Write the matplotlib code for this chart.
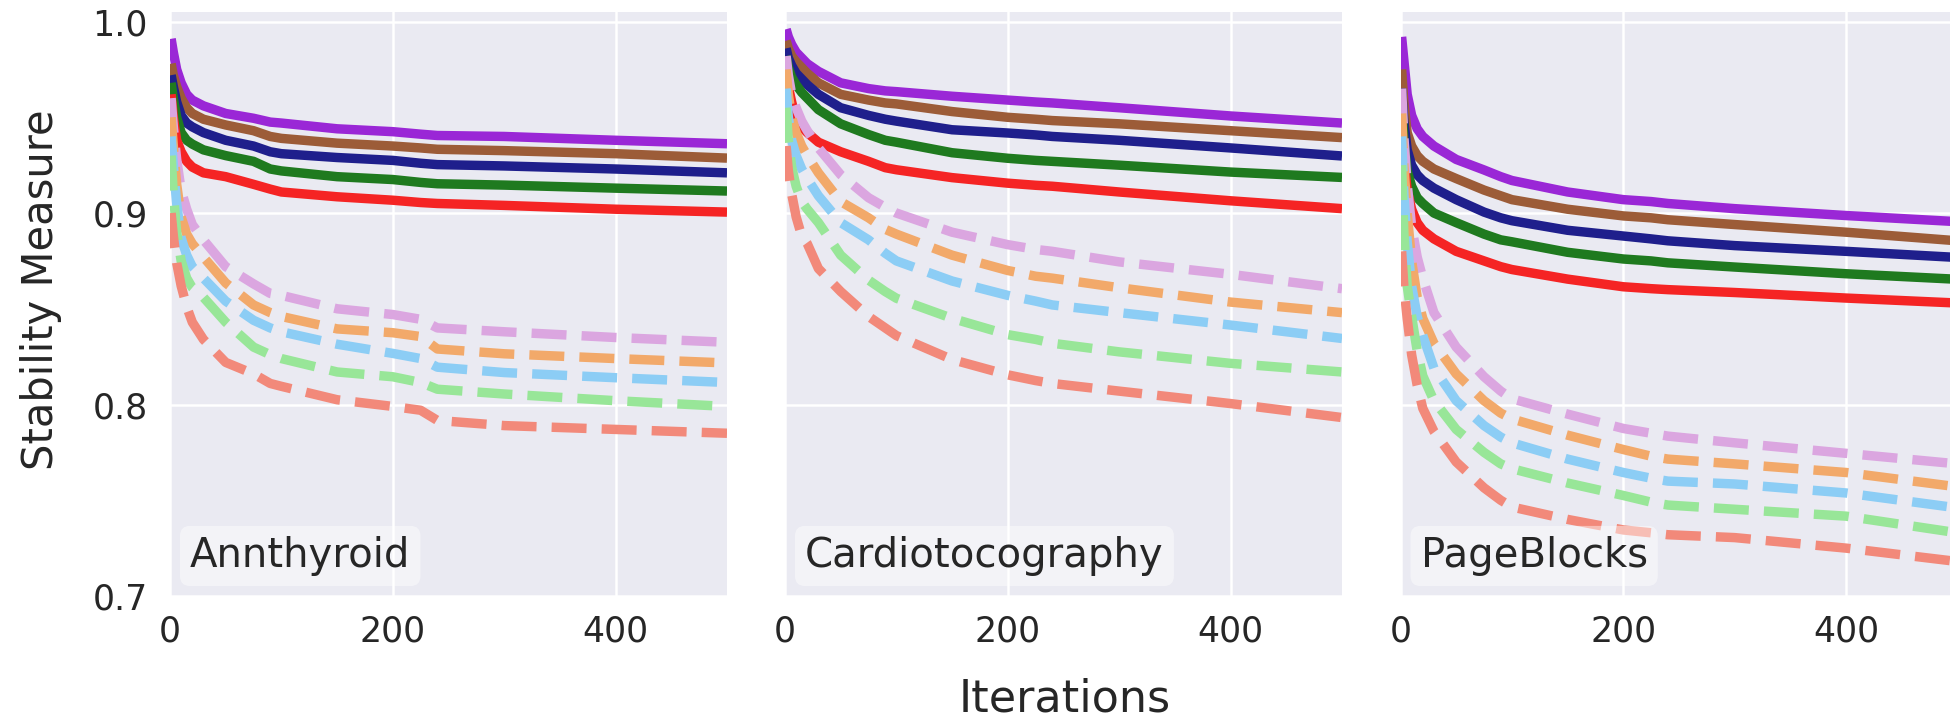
import matplotlib
matplotlib.use("Agg")
import matplotlib.pyplot as plt

# ---------------- data ----------------
iterations = [1, 3, 6, 10, 15, 20, 30, 50, 75, 90, 100, 150, 200, 225, 240, 300, 400, 500]
datasets = ["Annthyroid", "Cardiotocography", "PageBlocks"]

# Annthyroid
ann_purple = [.991, .984, .975, .968, .962, .959, .956, .952, .9495, .9475, .947, .944, .9425, .9412, .9405, .9400, .9380, .9362]
ann_brown  = [.978, .972, .966, .960, .955, .952, .949, .946, .943, .940, .939, .9365, .9350, .9340, .9333, .9326, .9310, .9287]
ann_blue   = [.972, .966, .958, .951, .947, .945, .942, .938, .935, .932, .931, .9290, .9275, .9260, .9253, .9246, .9230, .9210]
ann_green  = [.968, .960, .950, .942, .938, .936, .933, .930, .927, .923, .922, .9190, .9175, .9160, .9153, .9146, .9130, .9115]
ann_red    = [.962, .950, .938, .932, .927, .924, .921, .919, .915, .9125, .911, .9085, .9067, .9055, .9050, .9040, .9020, .9005]
ann_plum   = [.960, .945, .928, .912, .902, .894, .886, .872, .863, .858, .857, .850, .8470, .8445, .8400, .8380, .8350, .8325]
ann_sandy  = [.950, .935, .915, .898, .889, .884, .877, .8635, .852, .848, .846, .8395, .8375, .8355, .8290, .8265, .8240, .8217]
ann_sky    = [.940, .925, .905, .887, .878, .872, .866, .854, .844, .840, .838, .8315, .8267, .8240, .8195, .8167, .8140, .8115]
ann_lgreen = [.930, .910, .890, .875, .866, .861, .856, .843, .830, .826, .824, .8170, .8145, .8115, .8080, .8055, .8020, .7990]
ann_salmon = [.900, .888, .874, .862, .851, .843, .834, .822, .816, .811, .8095, .8025, .7990, .7970, .7917, .7890, .7870, .7850]

# Cardiotocography
car_purple = [.996, .992, .988, .984, .981, .978, .974, .968, .965, .9638, .9634, .961, .959, .958, .9575, .955, .9507, .947]
car_brown  = [.990, .986, .982, .979, .976, .973, .968, .962, .959, .9575, .957, .953, .950, .949, .9483, .9466, .943, .9394]
car_blue   = [.986, .981, .977, .973, .970, .967, .962, .955, .951, .949, .948, .9435, .9418, .9408, .940, .938, .934, .9298]
car_green  = [.982, .976, .971, .967, .963, .960, .954, .9466, .941, .938, .937, .9315, .9286, .9275, .927, .925, .9214, .9186]
car_red    = [.975, .966, .958, .949, .945, .942, .937, .932, .927, .9237, .9226, .9185, .9156, .9145, .914, .911, .9064, .9023]
car_plum   = [.982, .972, .962, .955, .948, .943, .934, .920, .908, .903, .900, .890, .8835, .881, .880, .8745, .868, .8605]
car_sandy  = [.975, .962, .950, .942, .935, .930, .921, .906, .8975, .8915, .889, .878, .870, .867, .866, .861, .8535, .848]
car_sky    = [.965, .950, .938, .930, .923, .918, .909, .895, .886, .879, .875, .8645, .857, .854, .852, .848, .8415, .8345]
car_lgreen = [.955, .938, .924, .914, .906, .902, .895, .878, .865, .859, .8555, .845, .8365, .834, .832, .8275, .8215, .817]
car_salmon = [.935, .922, .910, .898, .888, .884, .871, .859, .846, .840, .836, .8235, .8155, .8125, .811, .807, .8005, .7932]

# PageBlocks
pag_purple = [.992, .980, .962, .951, .944, .940, .935, .928, .9225, .919, .917, .911, .907, .906, .905, .9023, .8987, .8955]
pag_brown  = [.975, .958, .942, .935, .930, .927, .923, .918, .912, .909, .907, .902, .8985, .8975, .8965, .894, .890, .8855]
pag_blue   = [.965, .948, .933, .925, .920, .917, .913, .907, .9005, .8975, .896, .891, .888, .8865, .8855, .883, .880, .8768]
pag_green  = [.958, .938, .922, .914, .908, .905, .900, .895, .889, .886, .885, .8795, .876, .875, .874, .8718, .8683, .8654]
pag_red    = [.950, .928, .912, .902, .895, .891, .8865, .880, .875, .872, .8705, .8655, .8615, .8605, .860, .8585, .8556, .853]
pag_plum   = [.965, .940, .915, .893, .877, .866, .848, .830, .8145, .807, .803, .795, .7875, .785, .7835, .780, .7745, .769]
pag_sandy  = [.952, .925, .900, .875, .856, .845, .832, .816, .802, .7955, .7925, .784, .7765, .773, .7715, .769, .7645, .757]
pag_sky    = [.940, .910, .885, .862, .846, .836, .819, .802, .789, .783, .780, .7715, .7645, .7615, .760, .7585, .7538, .746]
pag_lgreen = [.925, .890, .862, .846, .828, .815, .802, .787, .775, .769, .7665, .759, .7525, .749, .7475, .7453, .7417, .733]
pag_salmon = [.880, .862, .845, .826, .810, .798, .786, .770, .7565, .750, .7465, .740, .7345, .733, .732, .7305, .725, .718]

solid_series = [
    [ann_purple, ann_brown, ann_blue, ann_green, ann_red],
    [car_purple, car_brown, car_blue, car_green, car_red],
    [pag_purple, pag_brown, pag_blue, pag_green, pag_red],
]
dashed_series = [
    [ann_plum, ann_sandy, ann_sky, ann_lgreen, ann_salmon],
    [car_plum, car_sandy, car_sky, car_lgreen, car_salmon],
    [pag_plum, pag_sandy, pag_sky, pag_lgreen, pag_salmon],
]

solid_colors = ["#9a27d6", "#9c5c38", "#1f1f8c", "#1f7a1f", "#f52424"]
dashed_colors = ["#dba6e0", "#f2a96a", "#8ccdf5", "#98e698", "#f2897a"]

xticks = [0, 200, 400]
yticks = [0.7, 0.8, 0.9, 1.0]
ytick_labels = ["0.7", "0.8", "0.9", "1.0"]

# ---------------- figure ----------------
W, H = 1950, 718
fig = plt.figure(figsize=(W / 100, H / 100), dpi=100)
fig.patch.set_facecolor("white")

bottom = 1 - 596 / H
height = (596 - 12) / H
width = 557 / W
lefts = [170 / W, 785 / W, 1400.5 / W]

text_color = "#262626"
lw = 6.8

for i, name in enumerate(datasets):
    ax = fig.add_axes([lefts[i], bottom, width, height])
    ax.set_facecolor("#EAEAF2")
    for s in ax.spines.values():
        s.set_visible(False)
    ax.grid(True, color="white", linewidth=1.8)
    ax.set_axisbelow(True)

    for ys, c in zip(solid_series[i], solid_colors):
        ax.plot(iterations, ys, color=c, linewidth=lw, solid_capstyle="butt")
    for ys, c in zip(dashed_series[i], dashed_colors):
        ax.plot(iterations, ys, color=c, linewidth=lw, linestyle="--")

    ax.set_xlim(0, 500)
    ax.set_ylim(0.7, 1.005)
    ax.set_xticks(xticks)
    ax.set_yticks(yticks)
    ax.tick_params(axis="both", length=0, labelsize=25, colors=text_color)
    ax.tick_params(axis="x", pad=13.5)
    ax.tick_params(axis="y", pad=16)
    if i == 0:
        ax.set_yticklabels(ytick_labels)
    else:
        ax.set_yticklabels([])

    ax.text(0.036, 0.0497, name, transform=ax.transAxes, fontsize=29,
            color=text_color, va="baseline", ha="left",
            bbox=dict(boxstyle="round,pad=0.25", facecolor="white",
                      edgecolor="none", alpha=0.45))

fig.text(1065 / W, 1 - 712 / H, "Iterations", ha="center", va="baseline",
         fontsize=32, color=text_color)
fig.text(53 / W, 1 - 290 / H, "Stability Measure", rotation=90,
         rotation_mode="anchor", ha="center", va="baseline",
         fontsize=30, color=text_color)

fig.savefig("out.png", dpi=100, facecolor="white")
